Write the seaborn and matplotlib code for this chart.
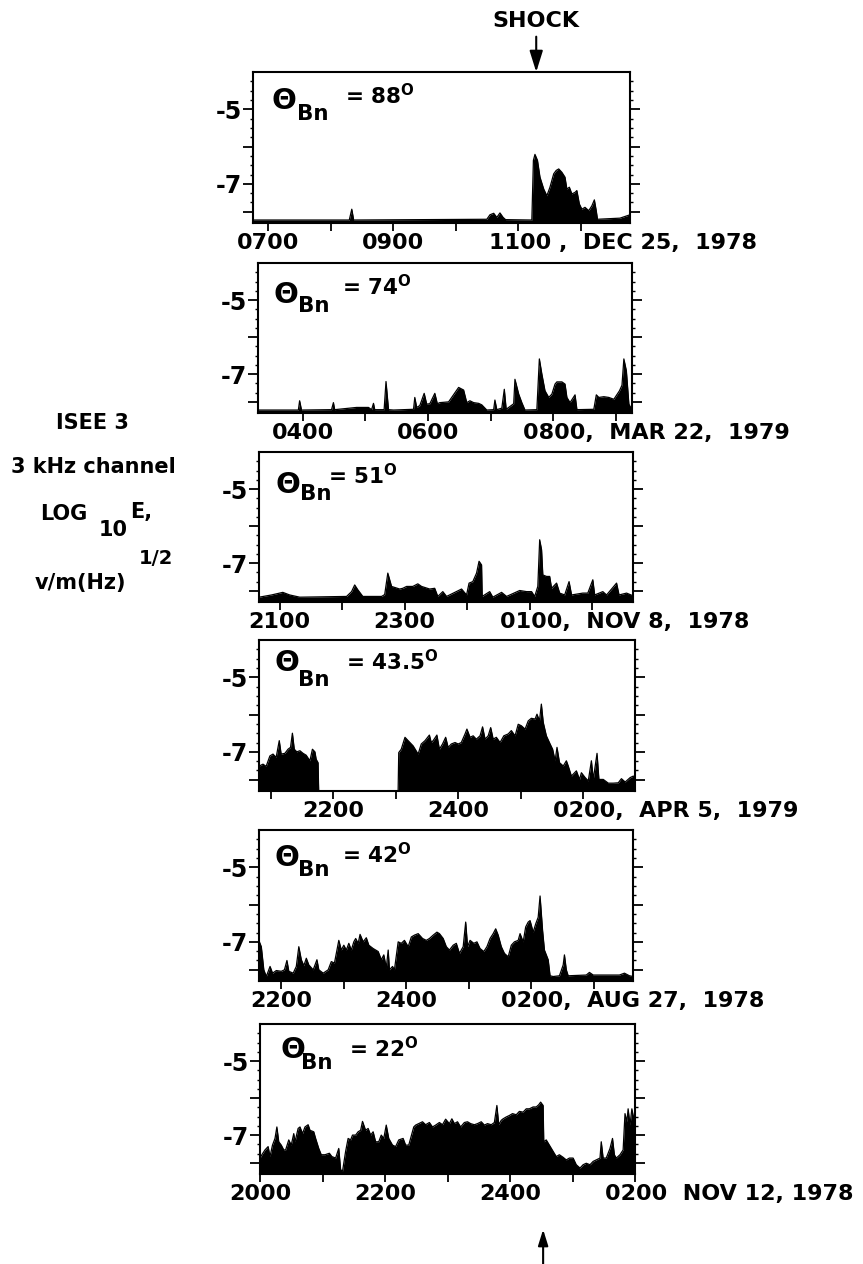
import matplotlib
matplotlib.use("Agg")
import numpy as np
import pandas as pd
import matplotlib.pyplot as plt
import seaborn as sns
from matplotlib.textpath import TextPath
from matplotlib.font_manager import FontProperties

# ---------------- data (time in hours, value = log10 E) ----------------
theta_values = ["88", "74", "51", "43.5", "42", "22"]

t1 = [6.76, 8.30, 8.34, 8.37, 10.50, 10.55, 10.61, 10.66, 10.71, 10.76, 10.80, 11.22, 11.245,
      11.27, 11.31, 11.35, 11.41, 11.46, 11.51, 11.57, 11.61, 11.65, 11.70, 11.75, 11.78, 11.82,
      11.86, 11.91, 11.94, 11.98, 12.02, 12.07, 12.13, 12.18, 12.22, 12.25, 12.27, 12.63, 12.79]
v1 = [-7.97, -7.97, -7.68, -7.97, -7.95, -7.83, -7.79, -7.90, -7.78, -7.90, -7.96, -7.97, -6.37,
      -6.21, -6.37, -6.82, -7.14, -7.32, -7.09, -6.73, -6.64, -6.60, -6.69, -6.82, -7.14, -7.09,
      -7.27, -7.23, -7.18, -7.54, -7.68, -7.63, -7.72, -7.59, -7.43, -7.72, -7.95, -7.92, -7.83]

t2 = [3.29, 3.93, 3.95, 3.98, 4.46, 4.49, 4.51, 4.86, 5.05, 5.10, 5.13, 5.15, 5.30, 5.33, 5.37,
      5.45, 5.77, 5.79, 5.82, 5.87, 5.94, 5.98, 6.03, 6.11, 6.15, 6.19, 6.33, 6.49, 6.57, 6.62,
      6.67, 6.73, 6.81, 6.86, 6.94, 7.05, 7.07, 7.10, 7.18, 7.22, 7.25, 7.37, 7.39, 7.45, 7.50,
      7.55, 7.74, 7.78, 7.82, 7.87, 7.93, 7.98, 8.03, 8.06, 8.14, 8.19, 8.22, 8.27, 8.35, 8.38,
      8.65, 8.69, 8.73, 8.81, 8.89, 8.97, 9.06, 9.10, 9.13, 9.17, 9.21, 9.26]
v2 = [-7.97, -7.97, -7.72, -7.97, -7.96, -7.77, -7.96, -7.90, -7.90, -7.96, -7.79, -7.96, -7.96,
      -7.20, -7.96, -7.97, -7.95, -7.63, -7.90, -7.85, -7.52, -7.81, -7.80, -7.52, -7.80, -7.77,
      -7.75, -7.36, -7.43, -7.77, -7.72, -7.77, -7.79, -7.83, -7.97, -7.96, -7.70, -7.96, -7.92,
      -7.41, -7.95, -7.80, -7.14, -7.54, -7.77, -7.97, -7.96, -6.59, -7.00, -7.45, -7.63, -7.54,
      -7.27, -7.21, -7.21, -7.27, -7.63, -7.77, -7.56, -7.96, -7.95, -7.56, -7.63, -7.61, -7.63,
      -7.68, -7.45, -7.30, -6.59, -6.91, -7.81, -7.97]

t3 = [20.67, 20.87, 21.05, 21.16, 21.32, 22.07, 22.15, 22.20, 22.25, 22.33, 22.44, 22.63, 22.68,
      22.73, 22.79, 22.92, 22.97, 23.03, 23.13, 23.21, 23.27, 23.40, 23.48, 23.53, 23.61, 23.67,
      23.91, 23.99, 24.03, 24.09, 24.15, 24.19, 24.23, 24.24, 24.36, 24.41, 24.55, 24.63, 24.84,
      24.95, 25.03, 25.08, 25.13, 25.16, 25.19, 25.21, 25.27, 25.32, 25.35, 25.43, 25.48, 25.56,
      25.63, 25.67, 25.85, 25.93, 26.01, 26.04, 26.17, 26.23, 26.39, 26.43, 26.55, 26.65]
v3 = [-7.92, -7.86, -7.79, -7.86, -7.92, -7.90, -7.77, -7.59, -7.72, -7.90, -7.90, -7.90, -7.85,
      -7.27, -7.63, -7.70, -7.68, -7.63, -7.63, -7.56, -7.63, -7.70, -7.68, -7.90, -7.77, -7.90,
      -7.70, -7.86, -7.54, -7.50, -7.27, -6.95, -7.05, -7.90, -7.77, -7.92, -7.79, -7.90, -7.74,
      -7.77, -7.77, -7.90, -7.63, -6.37, -6.64, -7.32, -7.36, -7.36, -7.68, -7.54, -7.81, -7.86,
      -7.50, -7.86, -7.81, -7.81, -7.45, -7.86, -7.77, -7.86, -7.54, -7.86, -7.81, -7.88]

t4 = [20.82, 20.88, 20.93, 20.99, 21.04, 21.09, 21.14, 21.17, 21.23, 21.28, 21.32, 21.35, 21.38,
      21.42, 21.47, 21.52, 21.57, 21.63, 21.67, 21.71, 21.73, 21.76, 21.77, 23.04, 23.05, 23.09,
      23.15, 23.20, 23.28, 23.36, 23.41, 23.47, 23.54, 23.57, 23.60, 23.66, 23.70, 23.75, 23.80,
      23.84, 23.89, 23.95, 24.00, 24.05, 24.11, 24.14, 24.19, 24.24, 24.29, 24.35, 24.39, 24.43,
      24.48, 24.52, 24.56, 24.61, 24.67, 24.73, 24.80, 24.85, 24.91, 24.96, 25.01, 25.07, 25.12,
      25.17, 25.23, 25.26, 25.30, 25.33, 25.36, 25.41, 25.47, 25.51, 25.55, 25.58, 25.62, 25.68,
      25.73, 25.76, 25.81, 25.89, 25.94, 25.97, 26.03, 26.08, 26.13, 26.16, 26.22, 26.25, 26.32,
      26.40, 26.48, 26.56, 26.61, 26.67, 26.75, 26.80, 26.83]
v4 = [-7.38, -7.33, -7.39, -7.11, -7.06, -7.15, -6.70, -7.06, -7.04, -6.93, -6.88, -6.50, -6.93,
      -7.00, -6.97, -7.04, -7.09, -7.24, -6.93, -7.00, -7.20, -7.29, -8.05, -8.05, -7.02, -6.93,
      -6.61, -6.70, -6.84, -7.06, -6.79, -6.70, -6.55, -6.75, -6.70, -6.55, -6.93, -6.79, -6.61,
      -6.88, -6.79, -6.75, -6.79, -6.75, -6.52, -6.39, -6.61, -6.57, -6.66, -6.57, -6.33, -6.66,
      -6.57, -6.35, -6.66, -6.61, -6.75, -6.57, -6.52, -6.43, -6.57, -6.26, -6.30, -6.39, -6.17,
      -6.10, -6.12, -5.99, -6.17, -5.72, -6.21, -6.57, -6.79, -6.93, -7.24, -6.88, -7.29, -7.38,
      -7.24, -7.38, -7.65, -7.51, -7.74, -7.56, -7.69, -7.78, -7.24, -7.74, -7.04, -7.74, -7.74,
      -7.84, -7.84, -7.83, -7.72, -7.81, -7.69, -7.65, -7.70]

t5 = [21.64, 21.68, 21.72, 21.76, 21.82, 21.86, 21.92, 22.00, 22.05, 22.09, 22.12, 22.19, 22.24,
      22.28, 22.32, 22.36, 22.40, 22.44, 22.51, 22.57, 22.60, 22.67, 22.75, 22.80, 22.85, 22.88,
      22.92, 22.96, 23.00, 23.04, 23.08, 23.12, 23.16, 23.19, 23.23, 23.26, 23.31, 23.36, 23.40,
      23.47, 23.55, 23.60, 23.64, 23.68, 23.71, 23.73, 23.78, 23.81, 23.87, 23.92, 23.97, 24.03,
      24.08, 24.13, 24.19, 24.26, 24.32, 24.37, 24.43, 24.49, 24.53, 24.59, 24.64, 24.69, 24.75,
      24.80, 24.85, 24.91, 24.95, 24.98, 25.02, 25.08, 25.13, 25.18, 25.24, 25.29, 25.34, 25.39,
      25.43, 25.47, 25.52, 25.57, 25.63, 25.68, 25.73, 25.79, 25.82, 25.87, 25.91, 25.95, 25.98,
      26.03, 26.07, 26.11, 26.14, 26.18, 26.21, 26.27, 26.30, 26.35, 26.45, 26.51, 26.53, 26.56,
      26.59, 26.88, 26.93, 26.99, 27.41, 27.49, 27.57, 27.63]
v5 = [-6.96, -7.13, -7.75, -7.93, -7.66, -7.84, -7.77, -7.79, -7.75, -7.50, -7.79, -7.84, -7.66,
      -7.13, -7.48, -7.64, -7.44, -7.62, -7.75, -7.48, -7.75, -7.84, -7.75, -7.53, -7.57, -7.31,
      -6.96, -7.22, -7.09, -7.22, -7.04, -7.22, -7.00, -6.91, -7.04, -6.80, -7.00, -6.89, -7.09,
      -7.18, -7.26, -7.48, -7.35, -7.70, -7.22, -7.75, -7.66, -7.75, -7.00, -7.04, -6.96, -7.13,
      -6.87, -6.82, -6.78, -6.91, -6.96, -6.91, -6.82, -6.74, -6.78, -6.91, -7.13, -7.22, -7.09,
      -7.04, -7.31, -7.13, -6.47, -7.13, -6.96, -7.04, -7.00, -7.18, -7.26, -7.13, -6.91, -6.78,
      -6.65, -6.82, -7.13, -7.31, -7.40, -7.09, -7.00, -6.96, -6.78, -7.00, -6.60, -6.47, -6.43,
      -6.74, -6.52, -6.34, -5.77, -6.69, -7.22, -7.48, -7.91, -7.93, -7.91, -7.62, -7.35, -7.75,
      -7.91, -7.89, -7.82, -7.89, -7.89, -7.84, -7.91, -7.93]

t6 = [20.00, 20.03, 20.08, 20.13, 20.16, 20.20, 20.24, 20.27, 20.30, 20.34, 20.38, 20.41, 20.46,
      20.50, 20.54, 20.56, 20.61, 20.64, 20.68, 20.72, 20.77, 20.80, 20.86, 20.89, 20.94, 20.98,
      21.04, 21.11, 21.15, 21.21, 21.26, 21.29, 21.32, 21.37, 21.41, 21.45, 21.48, 21.53, 21.57,
      21.61, 21.64, 21.69, 21.73, 21.77, 21.81, 21.85, 21.90, 21.94, 21.98, 22.02, 22.06, 22.12,
      22.17, 22.22, 22.29, 22.33, 22.38, 22.44, 22.46, 22.49, 22.54, 22.60, 22.65, 22.71, 22.76,
      22.81, 22.87, 22.92, 22.97, 23.03, 23.07, 23.11, 23.16, 23.21, 23.27, 23.32, 23.37, 23.43,
      23.48, 23.54, 23.59, 23.64, 23.70, 23.75, 23.79, 23.82, 23.86, 23.89, 23.94, 23.99, 24.04,
      24.10, 24.15, 24.21, 24.26, 24.31, 24.37, 24.42, 24.46, 24.49, 24.53, 24.54, 24.58, 24.63,
      24.69, 24.74, 24.79, 24.85, 24.90, 24.95, 25.01, 25.06, 25.12, 25.17, 25.22, 25.28, 25.33,
      25.38, 25.44, 25.46, 25.49, 25.54, 25.60, 25.64, 25.67, 25.70, 25.76, 25.81, 25.84, 25.87,
      25.89, 25.92, 25.95, 25.97, 26.00]
v6 = [-7.62, -7.53, -7.40, -7.31, -7.58, -7.27, -7.09, -6.78, -7.18, -7.27, -7.40, -7.40, -7.13,
      -7.27, -6.96, -7.18, -6.82, -6.78, -6.96, -6.78, -6.72, -6.87, -6.91, -7.09, -7.36, -7.53,
      -7.53, -7.49, -7.58, -7.62, -7.36, -7.93, -7.98, -7.44, -7.09, -7.13, -7.00, -7.00, -6.91,
      -6.87, -6.63, -6.87, -6.82, -7.00, -6.91, -7.18, -7.18, -7.00, -7.09, -6.73, -7.09, -7.27,
      -7.31, -7.13, -7.09, -7.27, -7.27, -6.91, -6.78, -6.73, -6.69, -6.64, -6.72, -6.66, -6.78,
      -6.73, -6.66, -6.72, -6.57, -6.69, -6.56, -6.69, -6.64, -6.78, -6.66, -6.64, -6.69, -6.72,
      -6.69, -6.64, -6.73, -6.69, -6.72, -6.66, -6.20, -6.72, -6.60, -6.56, -6.51, -6.47, -6.42,
      -6.45, -6.36, -6.38, -6.29, -6.29, -6.24, -6.24, -6.18, -6.11, -6.20, -7.18, -7.13, -7.27,
      -7.44, -7.58, -7.53, -7.60, -7.67, -7.62, -7.62, -7.80, -7.89, -7.80, -7.76, -7.80, -7.71,
      -7.67, -7.62, -7.18, -7.62, -7.62, -7.36, -7.09, -7.53, -7.62, -7.53, -7.40, -6.42, -6.64,
      -6.29, -6.73, -6.29, -6.47, -6.56]

tick_labels = [
    {7: "0700", 9: "0900"},
    {4: "0400", 6: "0600"},
    {21: "2100", 23: "2300"},
    {22: "2200", 24: "2400"},
    {22: "2200", 24: "2400"},
    {20: "2000", 22: "2200", 24: "2400"},
]
date_labels = [
    (11, "1100", " ,  DEC 25,  1978"),
    (8, "0800", ",  MAR 22,  1979"),
    (25, "0100", ",  NOV 8,  1978"),
    (26, "0200", ",  APR 5,  1979"),
    (26, "0200", ",  AUG 27,  1978"),
    (26, "0200", "  NOV 12, 1978"),
]
shock_top = 11.29
shock_bottom = 24.53

# ---------------- layout / style ----------------
W, H = 863, 1264
px_boxes = [  # left, right, top, bottom in pixels
    (253, 630, 72, 223),
    (258, 632, 263, 413),
    (259, 633, 452, 602),
    (259, 635, 640, 791),
    (259, 633, 830, 981),
    (260, 635, 1024, 1174),
]
xlims = [(6.76, 12.79), (3.285, 9.26), (20.669, 26.653), (20.816, 26.827),
         (21.643, 27.627), (20.0, 26.0)]
# theta label positions (axes fraction): Theta, Bn, "= value"
lab_pos = [
    ((0.050, 0.805), (0.117, 0.725), (0.245, 0.845)),
    ((0.042, 0.787), (0.107, 0.715), (0.225, 0.840)),
    ((0.045, 0.780), (0.110, 0.720), (0.185, 0.840)),
    ((0.042, 0.850), (0.104, 0.735), (0.232, 0.854)),
    ((0.042, 0.815), (0.104, 0.735), (0.222, 0.834)),
    ((0.056, 0.827), (0.110, 0.740), (0.238, 0.833)),
]
YBOT, YTOP = -8.05, -4.0
FS = 16

sns.set_theme(style="ticks")
plt.rcParams["font.family"] = ["DejaVu Sans"]
plt.rcParams["font.weight"] = "bold"
plt.rcParams["mathtext.fontset"] = "dejavusans"
plt.rcParams["mathtext.default"] = "regular"
for key in ["text.color", "axes.labelcolor", "xtick.color", "ytick.color",
            "axes.edgecolor"]:
    plt.rcParams[key] = "black"

fig = plt.figure(figsize=(W / 100, H / 100), dpi=100)
fp = FontProperties(family="DejaVu Sans", weight="bold", size=FS)

series = [(t1, v1), (t2, v2), (t3, v3), (t4, v4), (t5, v5), (t6, v6)]
axes = []
for i, (t, v) in enumerate(series):
    l, r, tp, b = px_boxes[i]
    ax = fig.add_axes([l / W, 1 - b / H, (r - l) / W, (b - tp) / H])
    axes.append(ax)
    df = pd.DataFrame({"t": t, "v": v})
    ax.fill_between(df["t"], df["v"], YBOT, color="black", lw=0)
    sns.lineplot(data=df, x="t", y="v", ax=ax, color="black", lw=0.9,
                 sort=False, estimator=None)
    ax.set_xlim(*xlims[i])
    ax.set_ylim(YBOT, YTOP)
    ax.set_xlabel("")
    ax.set_ylabel("")
    x0, x1 = xlims[i]
    ticks = list(range(int(np.ceil(x0)), int(np.floor(x1)) + 1))
    ax.set_xticks(ticks)
    ax.set_xticklabels([tick_labels[i].get(k, "") for k in ticks], fontsize=FS,
                       fontweight="bold", color="black")
    ax.set_yticks([-7.75, -7, -6, -5])
    ax.set_yticklabels(["", "-7", "", "-5"], fontsize=FS + 1, fontweight="bold",
                       color="black")
    ax.set_yticks(np.arange(-7.75, -4.0, 0.25), minor=True)
    ax.tick_params(axis="x", direction="out", length=6, width=1.3, pad=1,
                   colors="black")
    ax.tick_params(axis="y", which="major", direction="out", length=7, width=1.3,
                   pad=1, right=True, left=True, labelright=False, colors="black")
    ax.tick_params(axis="y", which="minor", direction="out", length=2.5, width=1.0,
                   right=True, left=True, colors="black")
    for s in ax.spines.values():
        s.set_linewidth(1.5)
        s.set_color("black")

    # date label on the last labelled tick
    hx, num, suffix = date_labels[i]
    half = TextPath((0, 0), num, prop=fp).get_extents().width / 2
    ax.annotate(num + suffix, xy=(hx, 0), xycoords=("data", "axes fraction"),
                xytext=(-half, -7), textcoords="offset points", ha="left", va="top",
                fontsize=FS, fontweight="bold", color="black", annotation_clip=False)

    # Theta_Bn label
    (tx, ty), (bx, by), (ex, ey) = lab_pos[i]
    ax.text(tx, ty, "\u0398", transform=ax.transAxes, fontsize=21, fontweight="bold",
            ha="left", va="center", color="black")
    ax.text(bx, by, "Bn", transform=ax.transAxes, fontsize=15.5, fontweight="bold",
            ha="left", va="center", color="black")
    ax.text(ex, ey, "= " + theta_values[i] + r"$^{\mathrm{O}}$", transform=ax.transAxes,
            fontsize=15.5, fontweight="bold", ha="left", va="center", color="black")

# SHOCK arrow at top
axes[0].annotate("SHOCK", xy=(shock_top, 1.0), xycoords=("data", "axes fraction"),
                 xytext=(0, 37), textcoords="offset points", ha="center", va="center",
                 fontsize=FS, fontweight="bold", color="black", annotation_clip=False,
                 arrowprops=dict(arrowstyle="-|>,head_length=0.8,head_width=0.25",
                                 color="black", lw=1.5, shrinkA=2, shrinkB=0))
# bottom arrow
axes[5].annotate("", xy=(shock_bottom, -0.37), xycoords=("data", "axes fraction"),
                 xytext=(shock_bottom, -0.62), textcoords=("data", "axes fraction"),
                 annotation_clip=False,
                 arrowprops=dict(arrowstyle="-|>,head_length=0.8,head_width=0.25",
                                 color="black", lw=1.5, shrinkA=0, shrinkB=0))

# left-side axis description
def ft(x, y, s, size=15, ha="left"):
    fig.text(x / W, 1 - y / H, s, fontsize=size, fontweight="bold", ha=ha, va="center",
             color="black")

ft(92, 423, "ISEE 3", ha="center")
ft(93, 467, "3 kHz channel", ha="center")
ft(40, 514, "LOG")
ft(99, 530, "10")
ft(130, 512, "E,")
ft(35, 583, "v/m(Hz)")
ft(139, 558, "1/2", size=14)

fig.savefig("out.png", dpi=100, facecolor="white")
